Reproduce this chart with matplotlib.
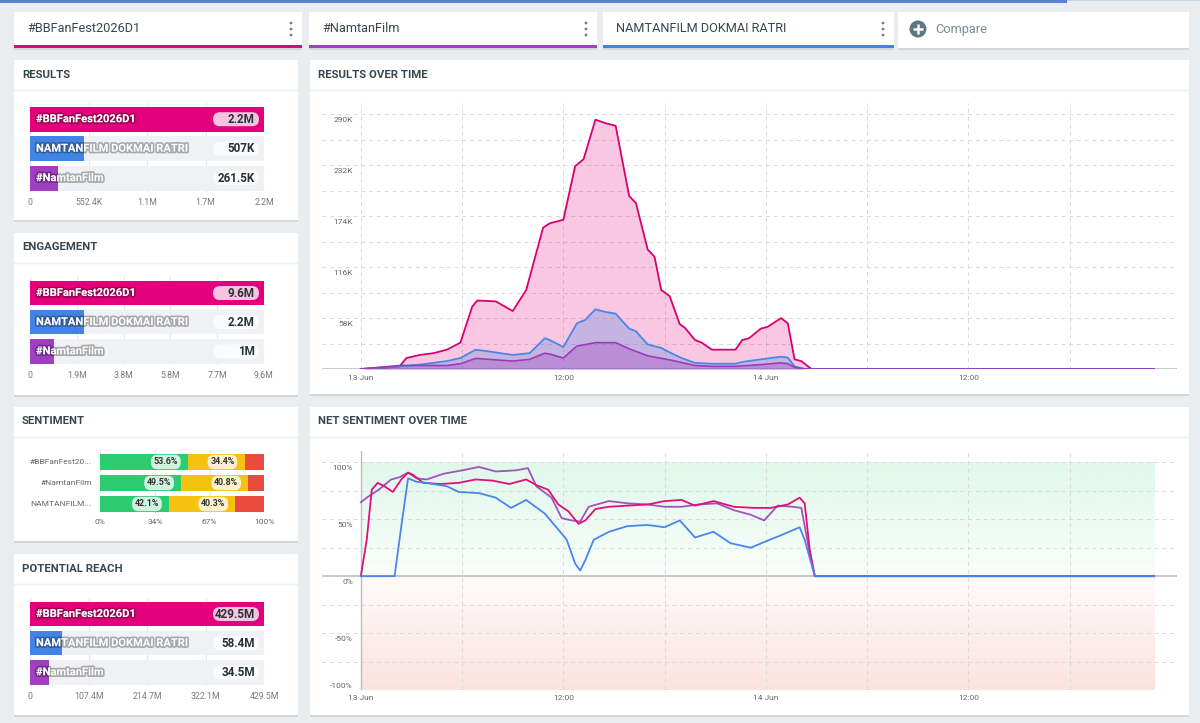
import matplotlib
matplotlib.use('Agg')
import matplotlib.pyplot as plt
import matplotlib.patheffects as pe
from matplotlib.patches import Rectangle, FancyBboxPatch, Circle
from matplotlib.colors import to_rgb
import numpy as np

plt.rcParams['font.family'] = ['Roboto', 'DejaVu Sans']

W, H = 1200, 723

PINK = '#e4007c'
BLUE = '#4184e4'
PURPLE = '#a03fbf'

# ---- data -------------------------------------------------------------
header_topics = ['#BBFanFest2026D1', '#NamtanFilm', 'NAMTANFILM DOKMAI RATRI']
header_colors = [PINK, PURPLE, BLUE]

bar_names = ['#BBFanFest2026D1', 'NAMTANFILM DOKMAI RATRI', '#NamtanFilm']
bar_colors = [PINK, BLUE, PURPLE]

results_vals = [2_209_600, 507_000, 261_500]
results_labels = ['2.2M', '507K', '261.5K']
results_ticks = ['0', '552.4K', '1.1M', '1.7M', '2.2M']

engagement_vals = [9_600_000, 2_200_000, 1_000_000]
engagement_labels = ['9.6M', '2.2M', '1M']
engagement_ticks = ['0', '1.9M', '3.8M', '5.8M', '7.7M', '9.6M']

reach_vals = [429_500_000, 58_400_000, 34_500_000]
reach_labels = ['429.5M', '58.4M', '34.5M']
reach_ticks = ['0', '107.4M', '214.7M', '322.1M', '429.5M']

sent_names = ['#BBFanFest20...', '#NamtanFilm', 'NAMTANFILM...']
sent_pos = [53.6, 49.5, 42.1]
sent_neu = [34.4, 40.8, 40.3]
sent_neg = [12.0, 9.7, 17.6]
sent_ticks = ['0%', '34%', '67%', '100%']

# results over time (hours from 13 Jun 00:00, thousands of results)
bb_hours = [0, 1.7, 2.3, 2.7, 3.5, 4.3, 5.1, 5.9, 6.6, 6.9, 8.0, 9.0, 9.8, 10.8, 11.2,
            12.0, 12.7, 13.2, 13.9, 14.5, 15.1, 15.9, 16.3, 17.0, 17.4, 17.8, 18.3,
            18.9, 19.2, 19.8, 20.2, 20.8, 22.2, 22.6, 23.0, 23.7, 24.1, 24.9, 25.3,
            25.7, 26.1, 26.7, 47]
bb_k = [0, 2, 3, 12.5, 16, 18, 22, 30, 71, 78, 77, 66, 90, 161, 166,
        170, 231, 239, 284, 280, 277, 197, 189, 136, 128, 90, 83,
        51, 47, 33, 30, 22, 22, 33, 35, 46, 48, 58, 52,
        11, 9, 0, 0]
nd_hours = [0, 2.3, 3.5, 5.1, 5.9, 6.8, 7.6, 9.0, 10.0, 10.9, 11.2, 12.0, 12.8, 13.3,
            13.9, 14.5, 15.1, 15.9, 16.3, 17.0, 17.8, 18.4, 19.0, 19.8, 20.8, 22.2,
            22.6, 23.7, 24.9, 25.3, 25.7, 26.3, 47]
nd_k = [0, 3, 5, 9, 12.5, 22, 20, 16, 18, 35, 33, 25, 52, 56,
        68, 65, 63, 46, 43, 28, 24, 18, 12.5, 7, 6, 6,
        8, 11, 14, 13, 3, 0, 0]
nf_hours = [0, 2.3, 3.5, 5.1, 5.9, 6.8, 7.6, 9.0, 10.0, 10.9, 11.2, 12.0, 12.8, 13.9,
            15.1, 15.9, 17.0, 18.4, 19.8, 20.8, 22.2, 23.7, 24.9, 25.3, 25.7, 26.3, 47]
nf_k = [0, 4, 4, 4, 6, 12, 11, 9, 11, 18, 17, 12.5, 26, 30,
        30, 23, 15, 10, 4, 3, 3, 5, 7, 6, 2, 0, 0]
res_yticks = [58, 116, 174, 232, 290]
res_grid_step = 29

time_ticks = [0, 12, 24, 36]
time_labels = ['13 Jun', '12:00', '14 Jun', '12:00']

# net sentiment over time (%)
sbb_hours = [0, 0.35, 0.65, 1.0, 1.4, 1.9, 2.4, 2.8, 3.1, 3.7, 4.7, 5.8, 6.8, 7.8, 8.8,
             9.8, 10.4, 11.1, 11.7, 12.3, 12.9, 13.3, 13.9, 14.7, 15.8, 17.0, 18.0,
             19.0, 19.8, 20.9, 22.1, 23.3, 24.3, 25.3, 26.0, 26.3, 26.6, 26.9, 47]
sbb_vals = [0, 32, 76, 82, 79, 74, 85, 91, 89, 82, 81, 82, 85, 84, 81,
            85, 80, 76, 63, 57, 46, 49, 59, 61, 62, 63, 66,
            67, 62, 66, 61, 60, 60, 63, 69, 64, 23, 0, 0]
snf_hours = [0, 0.45, 1.06, 1.8, 2.3, 2.8, 3.3, 3.9, 4.9, 6.0, 7.0, 8.0, 9.2, 9.9,
             10.4, 11.3, 11.9, 12.5, 13.0, 13.5, 14.7, 15.8, 17.0, 18.0, 19.0, 20.0,
             21.1, 22.1, 23.1, 23.9, 24.7, 25.6, 26.1, 26.6, 26.9, 47]
snf_vals = [65, 70, 76, 85, 87, 91, 86, 85, 90, 93, 96, 92, 93, 95,
            79, 69, 51, 49, 48, 61, 66, 64, 63, 61, 61, 63,
            64, 58, 54, 49, 62, 61, 60, 20, 0, 0]
snd_hours = [0, 2.0, 2.4, 2.8, 3.3, 3.9, 5.1, 5.8, 7.0, 8.0, 8.9, 9.8, 10.9, 11.7,
             12.2, 12.7, 13.0, 13.3, 13.8, 14.7, 15.8, 17.0, 18.0, 18.9, 19.8, 20.9,
             21.9, 23.1, 23.9, 24.9, 26.0, 26.3, 26.9, 47]
snd_vals = [0, 0, 44, 86, 83, 82, 79, 74, 73, 69, 60, 67, 55, 41,
            32, 11, 5, 14, 32, 39, 44, 45, 43, 49, 34, 39,
            29, 25, 30, 36, 43, 32, 0, 0]
sent_yticks = [100, 50, 0, -50, -100]
sent_ylabels = ['100%', '50%', '0%', '-50%', '-100%']

# ---- figure / helpers -------------------------------------------------
fig = plt.figure(figsize=(W / 100, H / 100), dpi=100)
fig.patch.set_facecolor('#eaedf0')

bg = fig.add_axes([0, 0, 1, 1], zorder=0)
bg.set_xlim(0, W); bg.set_ylim(H, 0); bg.axis('off')

ov = fig.add_axes([0, 0, 1, 1], zorder=5)
ov.set_xlim(0, W); ov.set_ylim(H, 0); ov.axis('off')


def px_axes(x0, y0, x1, y1):
    ax = fig.add_axes([x0 / W, 1 - y1 / H, (x1 - x0) / W, (y1 - y0) / H], zorder=2)
    ax.set_facecolor('none')
    for s in ax.spines.values():
        s.set_visible(False)
    return ax


def to_px(ax, x, y):
    X, Y = ax.transData.transform((x, y))
    return X, H - Y


def card(x0, y0, x1, y1, title=None):
    bg.add_patch(Rectangle((x0, y0 + 1.5), x1 - x0, y1 - y0, fc='#d2d7db', ec='none'))
    bg.add_patch(Rectangle((x0, y0), x1 - x0, y1 - y0, fc='white', ec='none'))
    if title:
        bg.text(x0 + 8, y0 + 14.5, title, fontsize=8.2, fontweight='bold',
                color='#37474f', va='center', ha='left')
        bg.plot([x0, x1], [y0 + 30, y0 + 30], color='#eceff1', lw=1)


# top strip
bg.add_patch(Rectangle((0, 0), 1067, 3, fc='#5c7fd8', ec='none'))
bg.add_patch(Rectangle((1067, 0), W - 1067, 1.2, fc='#c5d0ea', ec='none'))

# header cards
header_boxes = [(14, 302), (309, 597), (603, 894)]
for (x0, x1), name, col in zip(header_boxes, header_topics, header_colors):
    card(x0, 12, x1, 48)
    bg.add_patch(Rectangle((x0, 45), x1 - x0, 3, fc=col, ec='none'))
    bg.text(x0 + 13, 29, name, fontsize=9.2, color='#37474f', va='center')
    for dy in (-6, 0, 6):
        bg.add_patch(Circle((x1 - 11, 29 + dy), 1.4, fc='#7a7a7a', ec='none'))
card(898, 12, 1189, 48)
bg.add_patch(Circle((918, 29), 8.5, fc='#5f7684', ec='none'))
bg.plot([913, 923], [29, 29], color='white', lw=1.8, solid_capstyle='butt')
bg.plot([918, 918], [24, 34], color='white', lw=1.8, solid_capstyle='butt')
bg.text(935, 29.5, 'Compare', fontsize=9.2, color='#7b8b96', va='center')

card(14, 60, 298, 220, 'RESULTS')
card(14, 233, 298, 395, 'ENGAGEMENT')
card(14, 407, 298, 541, 'SENTIMENT')
card(14, 554, 298, 715, 'POTENTIAL REACH')
card(310, 60, 1189, 394, 'RESULTS OVER TIME')
card(310, 407, 1189, 715, 'NET SENTIMENT OVER TIME')

pill_colors = ['#f7c3df', '#fafbfc', '#fafbfc']


def bar_panel(box, vals, labels, ticks):
    ax = px_axes(*box)
    xmax = vals[0]
    rows = np.arange(len(vals))
    ax.barh(rows, xmax, height=0.84, color='#eff1f4', zorder=1)
    ax.barh(rows, vals, height=0.84, color=bar_colors, zorder=2)
    ax.set_xlim(0, xmax)
    ax.set_ylim(len(vals) - 0.53, -0.55)
    ax.set_xticks(np.linspace(0, xmax, len(ticks)), ticks)
    ax.set_yticks([])
    ax.tick_params(axis='x', length=0, labelsize=6.3, labelcolor='#7a7a7a', pad=4)
    ax.grid(axis='x', color='#e3e6ea', lw=0.8)
    ax.set_axisbelow(True)
    for i, name in enumerate(bar_names):
        ax.annotate(name, (0, i), xytext=(6, 0), textcoords='offset pixels',
                    ha='left', va='center', color='white', fontsize=8,
                    fontweight='bold', zorder=4,
                    path_effects=[pe.withStroke(linewidth=2.4, foreground=(0, 0, 0, 0.3))])
        px, py = to_px(ax, xmax, i)
        ov.add_patch(FancyBboxPatch((px - 51, py - 7), 46, 14,
                                    boxstyle='round,pad=0,rounding_size=7',
                                    fc=pill_colors[i], ec='none'))
        ov.text(px - 9, py, labels[i], ha='right', va='center', fontsize=8.4,
                fontweight='bold', color='#263238')
    return ax


bar_panel((30, 103, 264, 192), results_vals, results_labels, results_ticks)
bar_panel((30, 277, 264, 365), engagement_vals, engagement_labels, engagement_ticks)
bar_panel((30, 598, 264, 686), reach_vals, reach_labels, reach_ticks)

# ---- sentiment stacked bars ------------------------------------------
ax = px_axes(100, 450, 264.3, 513)
rows = np.arange(len(sent_names))
left = np.zeros(len(rows))
for vals, col, show in [(sent_pos, '#2ecc71', True), (sent_neu, '#f5c211', True),
                        (sent_neg, '#e94b3c', False)]:
    ax.barh(rows, vals, left=left, height=0.76, color=col, zorder=2)
    if show:
        for i, v in enumerate(vals):
            ax.annotate(f'{v}%', (left[i] + v, i), xytext=(-10, 0), textcoords='offset pixels',
                        ha='right', va='center', fontsize=6.4, fontweight='bold', color='#333333',
                        zorder=4, bbox=dict(boxstyle='round,pad=0.3,rounding_size=0.7',
                                            fc='white', alpha=0.78, ec='none'))
    left = left + np.array(vals)
ax.set_xlim(0, 100)
ax.set_ylim(len(rows) - 0.57, -0.57)
ax.set_xticks(np.linspace(0, 100, len(sent_ticks)), sent_ticks)
ax.set_yticks(rows, sent_names)
ax.tick_params(length=0, labelsize=6, labelcolor='#666666')
ax.tick_params(axis='y', pad=6)
ax.tick_params(axis='x', pad=4)
ax.grid(axis='x', color='#e6e8eb', lw=0.8)
ax.set_axisbelow(True)

# ---- results over time -----------------------------------------------
grid_kw = dict(color='#d9d9d9', lw=0.7, linestyle=(0, (4, 4)), zorder=1)
XMIN, XMAX = -2.3, 48.36

ax = px_axes(322, 103, 1177, 369)
ax.set_xlim(XMIN, XMAX)
ax.set_ylim(0, 303)
for v in np.arange(res_grid_step, 300, res_grid_step):
    ax.axhline(v, **grid_kw)
for h in range(0, 48, 6):
    ax.axvline(h, **grid_kw)
ax.fill_between(bb_hours, bb_k, color=PINK, alpha=0.22, lw=0, zorder=2)
ax.fill_between(nd_hours, nd_k, color=BLUE, alpha=0.28, lw=0, zorder=3)
ax.fill_between(nf_hours, nf_k, color=PURPLE, alpha=0.32, lw=0, zorder=4)
ax.plot(bb_hours, bb_k, color='#d8006f', lw=1.3, zorder=5)
ax.plot(nd_hours, nd_k, color='#4a86e8', lw=1.3, zorder=6)
ax.plot(nf_hours, nf_k, color='#9c3ab5', lw=1.2, zorder=7)
ax.axhline(0, color='#bdbdbd', lw=1.2, zorder=1.5)
ax.set_xticks([]); ax.set_yticks([])
for v in res_yticks:
    ax.annotate(f'{v}K', (0, v), xytext=(-8, -6), textcoords='offset pixels',
                ha='right', va='center', fontsize=6, color='#666666')
for h, lbl in zip(time_ticks, time_labels):
    ax.annotate(lbl, (h, 0), xytext=(0, -9), textcoords='offset pixels',
                ha='center', va='center', fontsize=6, color='#666666')

# ---- net sentiment over time -----------------------------------------
ax = px_axes(322, 451, 1177, 690)
end_h = sbb_hours[-1]
t = np.linspace(0, 1, 64)[:, None]
green = np.zeros((64, 1, 4)); green[..., :3] = to_rgb('#2ecc71'); green[..., 3] = 0.03 + 0.12 * t
red = np.zeros((64, 1, 4)); red[..., :3] = to_rgb('#e74c3c'); red[..., 3] = 0.16 - 0.13 * t
ax.imshow(green, extent=(0, end_h, 0, 100), origin='lower', aspect='auto', zorder=0,
          interpolation='bilinear')
ax.imshow(red, extent=(0, end_h, -100, 0), origin='lower', aspect='auto', zorder=0,
          interpolation='bilinear')
ax.set_xlim(XMIN, XMAX)
ax.set_ylim(-100, 110)
for v in (-100, -75, -50, -25, 25, 50, 75, 100):
    ax.axhline(v, **grid_kw)
for h in range(6, 48, 6):
    ax.axvline(h, **grid_kw)
ax.axhline(0, color='#bdbdbd', lw=1.2, zorder=1.5)
ax.plot([0, 0], [-100, 110], color='#bdbdbd', lw=1, zorder=1.5)
ax.plot(snf_hours, snf_vals, color='#a452bd', lw=1.3, zorder=5)
ax.plot(sbb_hours, sbb_vals, color='#e0107a', lw=1.3, zorder=6)
ax.plot(snd_hours, snd_vals, color='#4a86e8', lw=1.3, zorder=7)
ax.set_xticks([]); ax.set_yticks([])
for v, lbl in zip(sent_yticks, sent_ylabels):
    dy = 4 if v == sent_yticks[-1] else -6   # bottom label sits above its line
    ax.annotate(lbl, (0, v), xytext=(-8, dy), textcoords='offset pixels',
                ha='right', va='center', fontsize=6, color='#666666')
for h, lbl in zip(time_ticks, time_labels):
    ax.annotate(lbl, (h, -100), xytext=(0, -8), textcoords='offset pixels',
                ha='center', va='center', fontsize=6, color='#666666')

fig.savefig('out.png', dpi=100, facecolor=fig.get_facecolor())
